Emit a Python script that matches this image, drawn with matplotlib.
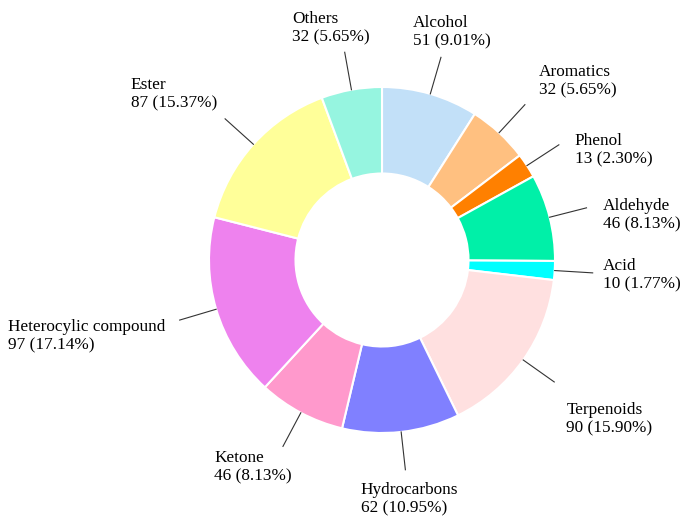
import numpy as np
import matplotlib.pyplot as plt

plt.rcParams['font.family'] = ['Liberation Serif', 'DejaVu Serif']

# data (clockwise from 12 o'clock)
labels = ['Alcohol', 'Aromatics', 'Phenol', 'Aldehyde', 'Acid', 'Terpenoids',
          'Hydrocarbons', 'Ketone', 'Heterocylic compound', 'Ester', 'Others']
counts = [51, 32, 13, 46, 10, 90, 62, 46, 97, 87, 32]
colors = ['#c2e0f8', '#ffc080', '#ff8000', '#00f0a8', '#00ffff', '#ffe0e0',
          '#8080ff', '#ff99cc', '#ee82ee', '#ffff99', '#96f5e0']

# small hand tweaks of label placement (pixels, x right / y down)
nudge = [(-1, 3), (8, 5), (5, 5), (5, 7), (-1, 2), (6, 9),
         (-2, 1), (-10, -7), (-3, 16), (-2, 4), (-6, 4)]

W, H = 691, 525
fig = plt.figure(figsize=(W / 100, H / 100), dpi=100)
ax = fig.add_axes([0, 0, 1, 1])

# axes units = pixels
cx, cy, R = 382, 265, 173
wedges, _ = ax.pie(counts, colors=colors, startangle=90, counterclock=False,
                   radius=R, center=(cx, cy),
                   wedgeprops=dict(width=0.5 * R, edgecolor='white', linewidth=1.5))
ax.set_xlim(0, W)
ax.set_ylim(0, H)
ax.set_aspect('equal')
ax.axis('off')

total = sum(counts)
items = []
for w, lab, n in zip(wedges, labels, counts):
    ang = np.deg2rad((w.theta1 + w.theta2) / 2)
    c, s = np.cos(ang), np.sin(ang)
    ex, ey = cx + 1.22 * R * c, cy + 1.22 * R * s
    ax.plot([cx + R * c, ex], [cy + R * s, ey], color='#333333', lw=0.8)
    t = ax.text(ex, ey, f'{lab}\n{n} ({n / total * 100:.2f}%)',
                ha='left', va='bottom', fontsize=12.4, linespacing=1.2)
    items.append((t, ex, ey, c, s))

# place each label box just outside the end of its leader line
fig.canvas.draw()
rend = fig.canvas.get_renderer()
for (t, ex, ey, c, s), (dx, dy) in zip(items, nudge):
    bb = t.get_window_extent(rend)
    tw, th = bb.width, bb.height
    side = abs(s) < 0.56          # label sits beside the line end
    if side:
        y0 = ey - th / 2
    elif s > 0:
        y0 = ey + 11
    else:
        y0 = ey - 11 - th
    if abs(c) >= 0.6:
        gx = 11 if side else 6
        x0 = ex + gx if c > 0 else ex - gx - tw
    else:
        x0 = ex - (0.5 - 0.55 * c) * tw
    t.set_position((x0 + dx, y0 - dy))

fig.savefig('out.png', dpi=100)
